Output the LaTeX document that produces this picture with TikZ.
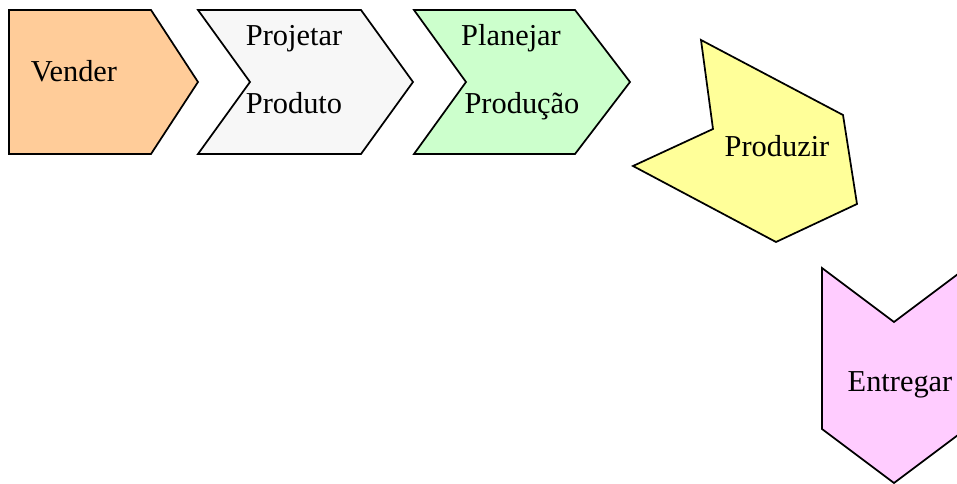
\documentclass[tikz,border=0pt]{standalone}
\usepackage{fontspec}
\setmainfont{Liberation Serif}
\usepackage{xcolor}
\usetikzlibrary{positioning}

\definecolor{venderfill}{HTML}{FFCC99}
\definecolor{projetarfill}{HTML}{F7F7F7}
\definecolor{planejarfill}{HTML}{CCFFCC}
\definecolor{produzirfill}{HTML}{FFFF99}
\definecolor{entregarfill}{HTML}{FFCCFF}

\begin{document}
\begin{tikzpicture}[
    x=0.75pt, y=-0.75pt,
    stage/.style={draw=black, line width=1.3pt, line join=miter},
    lbl/.style={font=\fontsize{22.8}{27}\selectfont, inner sep=0pt, anchor=base}
]
\useasboundingbox (0,0) rectangle (957,484);

% etapas em seta
\draw[stage, fill=venderfill] (9,10) -- (151,10) -- (198,82) -- (151,154) -- (9,154) -- cycle;
\draw[stage, fill=projetarfill] (198,10) -- (361,10) -- (413,82) -- (361,154) -- (198,154) -- (250,82) -- cycle;
\draw[stage, fill=planejarfill] (414,10) -- (575,10) -- (630,82) -- (575,154) -- (414,154) -- (466,82) -- cycle;

% seta inclinada
\draw[stage, fill=produzirfill] (701,40) -- (843,115) -- (857,204) -- (776,242) -- (633,166) -- (713,129) -- cycle;

% seta para baixo (cortada na borda)
\draw[stage, fill=entregarfill] (822,268) -- (894,322) -- (966,268) -- (966,429) -- (894,483) -- (822,429) -- cycle;

% textos
\node[lbl] (vender) at (74,82) {Vender};
\node[lbl] (projetar) at (294,46) {Projetar};
\node[lbl] (produto) at (294,114) {Produto};
\node[lbl] (planejar) at (511,46) {Planejar};
\node[lbl] (producao) at (522,114) {Produção};
\node[lbl] (produzir) at (777,157) {Produzir};
\node[lbl] (entregar) at (900,392) {Entregar};

\end{tikzpicture}
\end{document}
